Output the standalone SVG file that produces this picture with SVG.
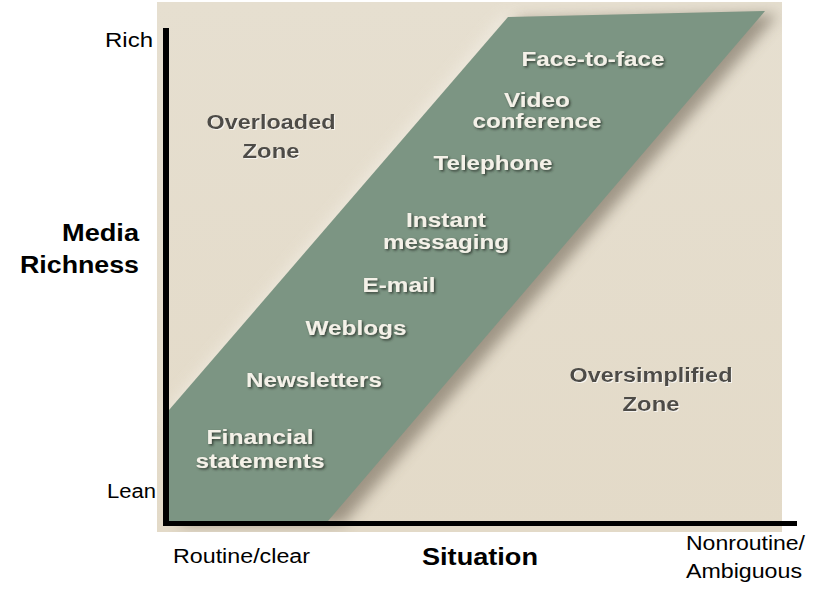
<svg xmlns="http://www.w3.org/2000/svg" width="820" height="591" viewBox="0 0 820 591">
<defs>
<style>
.ax{font-family:"Liberation Sans",Arial,sans-serif;font-size:19.5px;fill:#000}
.axb{font-family:"Liberation Sans",Arial,sans-serif;font-size:23px;font-weight:bold;fill:#000}
.w{font-family:"Liberation Sans",Arial,sans-serif;font-size:20px;font-weight:bold;fill:#f4f1e8;text-anchor:middle}
.d{font-family:"Liberation Sans",Arial,sans-serif;font-size:20px;font-weight:bold;fill:#4d4b47;text-anchor:middle}
</style>
<filter id="ts" x="-10%" y="-30%" width="120%" height="160%">
<feDropShadow dx="1.5" dy="1.5" stdDeviation="0.8" flood-color="#2a3029" flood-opacity="0.85"/>
</filter>
<filter id="tl" x="-10%" y="-30%" width="120%" height="160%">
<feDropShadow dx="1" dy="1" stdDeviation="0.6" flood-color="#ffffff" flood-opacity="0.7"/>
</filter>
<filter id="blur" x="-20%" y="-20%" width="140%" height="140%">
<feGaussianBlur stdDeviation="7"/>
</filter>
<linearGradient id="bg" x1="0" y1="0" x2="0" y2="1">
<stop offset="0" stop-color="#e6dfd0"/>
<stop offset="1" stop-color="#e3dac8"/>
</linearGradient>
<clipPath id="panelclip"><rect x="157" y="2" width="625" height="530"/></clipPath>
</defs>
<rect width="820" height="591" fill="#ffffff"/>
<g id="panel">
<rect x="157" y="2" width="625" height="530" fill="url(#bg)"/>
<g clip-path="url(#panelclip)">
<polygon points="520,20 778,14 343,524 178,524" fill="#5a5040" opacity="0.5" filter="url(#blur)"/>
<polygon points="503,16 515,16 169,422 169,408" fill="#f6f2ea" opacity="0.7" filter="url(#blur)"/>
<polygon points="508,17 765,11 328,521 169,521 169,410" fill="#7c9583"/>
</g>
</g>
<g id="axes">
<rect x="163" y="28" width="6" height="498" fill="#000"/>
<rect x="163" y="521" width="634" height="5" fill="#000"/>
</g>
<g id="axis-labels">
<text class="ax" x="105" y="47" textLength="48" lengthAdjust="spacingAndGlyphs">Rich</text>
<text class="ax" x="107" y="498" textLength="49" lengthAdjust="spacingAndGlyphs">Lean</text>
<text class="axb" x="62" y="241" textLength="77" lengthAdjust="spacingAndGlyphs">Media</text>
<text class="axb" x="20" y="273" textLength="119" lengthAdjust="spacingAndGlyphs">Richness</text>
<text class="ax" x="173" y="563" textLength="137" lengthAdjust="spacingAndGlyphs">Routine/clear</text>
<text class="axb" x="422" y="565" textLength="116" lengthAdjust="spacingAndGlyphs">Situation</text>
<text class="ax" x="686" y="550" textLength="119" lengthAdjust="spacingAndGlyphs">Nonroutine/</text>
<text class="ax" x="686" y="578" textLength="116" lengthAdjust="spacingAndGlyphs">Ambiguous</text>
</g>
<g id="zone-overloaded" filter="url(#tl)">
<text class="d" x="271" y="129" textLength="129" lengthAdjust="spacingAndGlyphs">Overloaded</text>
<text class="d" x="271" y="158" textLength="57" lengthAdjust="spacingAndGlyphs">Zone</text>
</g>
<g id="zone-oversimplified" filter="url(#tl)">
<text class="d" x="651" y="382" textLength="163" lengthAdjust="spacingAndGlyphs">Oversimplified</text>
<text class="d" x="651" y="411" textLength="57" lengthAdjust="spacingAndGlyphs">Zone</text>
</g>
<g id="face-to-face" filter="url(#ts)"><text class="w" x="593" y="66" textLength="143" lengthAdjust="spacingAndGlyphs">Face-to-face</text></g>
<g id="video-conference" filter="url(#ts)">
<text class="w" x="537" y="107" textLength="66" lengthAdjust="spacingAndGlyphs">Video</text>
<text class="w" x="537" y="128" textLength="129" lengthAdjust="spacingAndGlyphs">conference</text>
</g>
<g id="telephone" filter="url(#ts)"><text class="w" x="493" y="170" textLength="119" lengthAdjust="spacingAndGlyphs">Telephone</text></g>
<g id="instant-messaging" filter="url(#ts)">
<text class="w" x="446" y="227" textLength="80" lengthAdjust="spacingAndGlyphs">Instant</text>
<text class="w" x="446" y="249" textLength="126" lengthAdjust="spacingAndGlyphs">messaging</text>
</g>
<g id="e-mail" filter="url(#ts)"><text class="w" x="399" y="292" textLength="73" lengthAdjust="spacingAndGlyphs">E-mail</text></g>
<g id="weblogs" filter="url(#ts)"><text class="w" x="356" y="335" textLength="101" lengthAdjust="spacingAndGlyphs">Weblogs</text></g>
<g id="newsletters" filter="url(#ts)"><text class="w" x="314" y="387" textLength="136" lengthAdjust="spacingAndGlyphs">Newsletters</text></g>
<g id="financial-statements" filter="url(#ts)">
<text class="w" x="260" y="444" textLength="107" lengthAdjust="spacingAndGlyphs">Financial</text>
<text class="w" x="260" y="468" textLength="129" lengthAdjust="spacingAndGlyphs">statements</text>
</g>
</svg>
